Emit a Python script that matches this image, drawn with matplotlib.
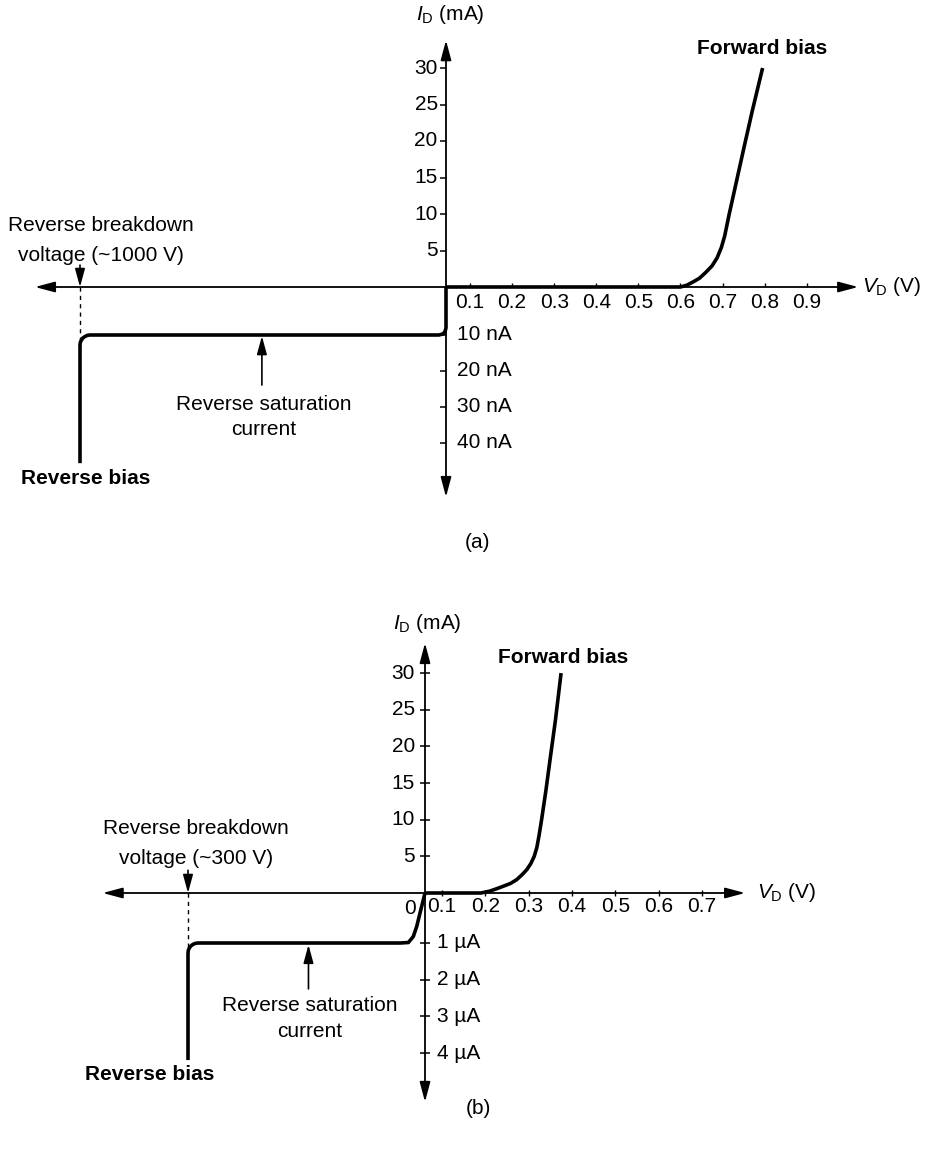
import numpy as np
import matplotlib
matplotlib.use("Agg")
import matplotlib.pyplot as plt

plt.rcParams["font.family"] = ["Liberation Sans", "DejaVu Sans"]
plt.rcParams["mathtext.fontset"] = "custom"
plt.rcParams["mathtext.rm"] = "Liberation Sans"
plt.rcParams["mathtext.it"] = "Liberation Sans:italic"
plt.rcParams["font.size"] = 15

NA = 1e-6   # nA -> mA
UA = 1e-3   # uA -> mA

# --- (a) silicon diode: forward branch (V, mA), reverse branch (V, nA)
a_fwd_v = [0.0, 0.60, 0.615, 0.63, 0.645, 0.66, 0.675, 0.687, 0.697, 0.705,
           0.715, 0.73, 0.75, 0.77, 0.785, 0.795]
a_fwd_i = [0.0, 0.0, 0.25, 0.7, 1.2, 2.0, 2.9, 4.0, 5.4, 7.0,
           9.8, 13.7, 18.9, 24.0, 27.6, 30.0]
a_rev_v = [-1000, -1000, -999, -996, -992, -986, -980, -973, -19, -9.5, -5.6, -2.5, 0, 0]
a_rev_na = [-45.6, -12.8, -12.0, -11.4, -10.8, -10.4, -10.1, -10.0, -10.0, -9.8, -9.55, -9.25, -8.5, 0]
a_vticks = [0.1, 0.2, 0.3, 0.4, 0.5, 0.6, 0.7, 0.8, 0.9]
a_mticks = [5, 10, 15, 20, 25, 30]
a_nticks = [10, 20, 30, 40]
a_vbr = -1000

# --- (b) germanium diode: forward branch (V, mA), reverse branch (V, uA)
b_fwd_v = [0.0, 0.19, 0.21, 0.227, 0.245, 0.258, 0.272, 0.285, 0.296, 0.305,
           0.313, 0.319, 0.324, 0.33, 0.34, 0.35, 0.362, 0.375]
b_fwd_i = [0.0, 0.0, 0.25, 0.6, 1.0, 1.3, 1.8, 2.5, 3.2, 4.0,
           5.0, 6.2, 7.8, 10.0, 14.0, 18.4, 23.6, 30.0]
b_rev_v = [-300, -300, -299.6, -298.3, -296.3, -293.7, -290.6, -287.3, -31, -21, -14.8, -10.5, -6.3, -2.2, 0]
b_rev_ua = [-4.19, -1.27, -1.20, -1.135, -1.08, -1.036, -1.01, -1.0, -1.0, -0.99, -0.87, -0.67, -0.40, -0.14, 0]
b_vticks = [0.1, 0.2, 0.3, 0.4, 0.5, 0.6, 0.7]
b_mticks = [5, 10, 15, 20, 25, 30]
b_uticks = [1, 2, 3, 4]
b_vbr = -300

W, H = 927, 1155
fig = plt.figure(figsize=(W / 100, H / 100), dpi=100)


def panel_axes(row0, row1, origin, xmap, ymap):
    """Axes over a horizontal band of the figure with piecewise-linear
    (broken) scales; transformed units are pixels from the origin."""
    ax = fig.add_axes([0, 1 - row1 / H, 1, (row1 - row0) / H])
    ox, oy = origin
    xd, xp = xmap
    yd, yp = ymap
    fx = (lambda v: np.interp(v, xd, xp), lambda p: np.interp(p, xp, xd))
    fy = (lambda v: np.interp(v, yd, yp), lambda p: np.interp(p, yp, yd))
    ax.set_xscale("function", functions=fx)
    ax.set_yscale("function", functions=fy)
    ax.set_xlim(fx[1](-ox), fx[1](W - ox))
    ax.set_ylim(fy[1](oy - row1), fy[1](oy - row0))
    ax.axis("off")
    return ax


def axis_arrow(ax, p0, p1):
    ax.annotate("", xy=p1, xytext=p0,
                arrowprops=dict(arrowstyle="<|-|>,head_length=1.2,head_width=0.32",
                                lw=1.3, color="black", shrinkA=0, shrinkB=0,
                                mutation_scale=10))


def small_arrow(ax, tail, tip):
    ax.annotate("", xy=tip, xytext=tail,
                arrowprops=dict(arrowstyle="-|>,head_length=1.1,head_width=0.3",
                                lw=1.2, color="black", shrinkA=0, shrinkB=0,
                                mutation_scale=10))


# ---------------- panel (a)
ax = panel_axes(0, 560, (446, 287),
                ([-2000, 0, 0.1, 2.0], [-732, 0, 24, 823.9]),
                ([-1000 * NA, -10 * NA, 0, 100], [-3612, -48, 0, 730]))

axis_arrow(ax, (-1123, 0), (1.022, 0))
axis_arrow(ax, (0, -55 * NA), (0, 33.8))

ax.plot(np.zeros(len(a_mticks)), a_mticks, ls="none", marker=0, ms=4, mew=1.1, color="black")
ax.plot(np.zeros(len(a_nticks)), -np.array(a_nticks) * NA, ls="none", marker=0, ms=4, mew=1.1, color="black")
ax.plot(a_vticks, np.zeros(len(a_vticks)), ls="none", marker=2, ms=3, mew=1.0, color="black")

for m in a_mticks:
    ax.annotate(str(m), (0, m), xytext=(-6, 0), textcoords="offset points",
                ha="right", va="center")
for n in a_nticks:
    ax.annotate(f"{n} nA", (0, -n * NA), xytext=(8, 0), textcoords="offset points",
                ha="left", va="center")
for v in a_vticks:
    ax.annotate(f"{v:.1f}", (v, 0), xytext=(0, -11.5), textcoords="offset points",
                ha="center", va="center")

ax.plot(a_fwd_v, a_fwd_i, color="black", lw=2.6, solid_capstyle="butt")
ax.plot(a_rev_v, np.array(a_rev_na) * NA, color="black", lw=2.6, solid_capstyle="butt")

ax.plot([a_vbr, a_vbr], [0, -12.8 * NA], color="black", lw=1.0, ls=(0, (3, 3)))
small_arrow(ax, (a_vbr, 3.0), (a_vbr, 0))
small_arrow(ax, (-503, -23.9 * NA), (-503, -10.3 * NA))

ax.text(-82, 37.3, r"$I_{\rm D}$ (mA)", ha="left", va="center")
ax.text(1.031, 0, r"$V_{\rm D}$ (V)", ha="left", va="center")
ax.text(0.795, 32.7, "Forward bias", ha="center", va="center", fontweight="bold")
ax.text(-984, -50 * NA, "Reverse bias", ha="center", va="center", fontweight="bold")
ax.text(-943, 6.4, "Reverse breakdown\nvoltage (~1000 V)", ha="center", va="center",
        linespacing=1.7)
ax.text(-497, -32.8 * NA, "Reverse saturation\ncurrent", ha="center", va="center",
        linespacing=1.45)

# ---------------- panel (b)
bx = panel_axes(560, 1155, (425, 893),
                ([-1000, 0, 0.1, 2.0], [-790, 0, 17, 839.7]),
                ([-100 * UA, -1 * UA, 0, 100], [-3683.3, -50, 0, 733]))

axis_arrow(bx, (-408, 0), (0.80, 0))
axis_arrow(bx, (0, -5.33 * UA), (0, 34.1))

bx.plot(np.zeros(len(b_mticks)), b_mticks, ls="none", marker="_", ms=7, mew=1.1, color="black")
bx.plot(np.zeros(len(b_uticks)), -np.array(b_uticks) * UA, ls="none", marker="_", ms=7, mew=1.1, color="black")
bx.plot(b_vticks, np.zeros(len(b_vticks)), ls="none", marker="|", ms=5, mew=1.0, color="black")

for m in b_mticks:
    bx.annotate(str(m), (0, m), xytext=(-7.2, 0), textcoords="offset points",
                ha="right", va="center")
for u in b_uticks:
    bx.annotate(f"{u} µA", (0, -u * UA), xytext=(8.6, 0), textcoords="offset points",
                ha="left", va="center")
for v in b_vticks:
    bx.annotate(f"{v:.1f}", (v, 0), xytext=(0, -10), textcoords="offset points",
                ha="center", va="center")
bx.annotate("0", (0, 0), xytext=(-11, -11), textcoords="offset points",
            ha="center", va="center")

bx.plot(b_fwd_v, b_fwd_i, color="black", lw=2.6, solid_capstyle="butt")
bx.plot(b_rev_v, np.array(b_rev_ua) * UA, color="black", lw=2.6, solid_capstyle="butt")

bx.plot([b_vbr, b_vbr], [0, -1.27 * UA], color="black", lw=1.0, ls=(0, (3, 3)))
small_arrow(bx, (b_vbr, 3.1), (b_vbr, 0))
small_arrow(bx, (-147.5, -2.25 * UA), (-147.5, -1.05 * UA))

bx.text(-40.5, 36.8, r"$I_{\rm D}$ (mA)", ha="left", va="center")
bx.text(0.827, 0, r"$V_{\rm D}$ (V)", ha="left", va="center")
bx.text(0.379, 32.1, "Forward bias", ha="center", va="center", fontweight="bold")
bx.text(-348, -4.57 * UA, "Reverse bias", ha="center", va="center", fontweight="bold")
bx.text(-290, 6.75, "Reverse breakdown\nvoltage (~300 V)", ha="center", va="center",
        linespacing=1.7)
bx.text(-145.6, -3.06 * UA, "Reverse saturation\ncurrent", ha="center", va="center",
        linespacing=1.45)

fig.text(478 / W, 1 - 542 / H, "(a)", ha="center", va="center")
fig.text(478 / W, 1 - 1108 / H, "(b)", ha="center", va="center")

fig.savefig("out.png", dpi=100)
